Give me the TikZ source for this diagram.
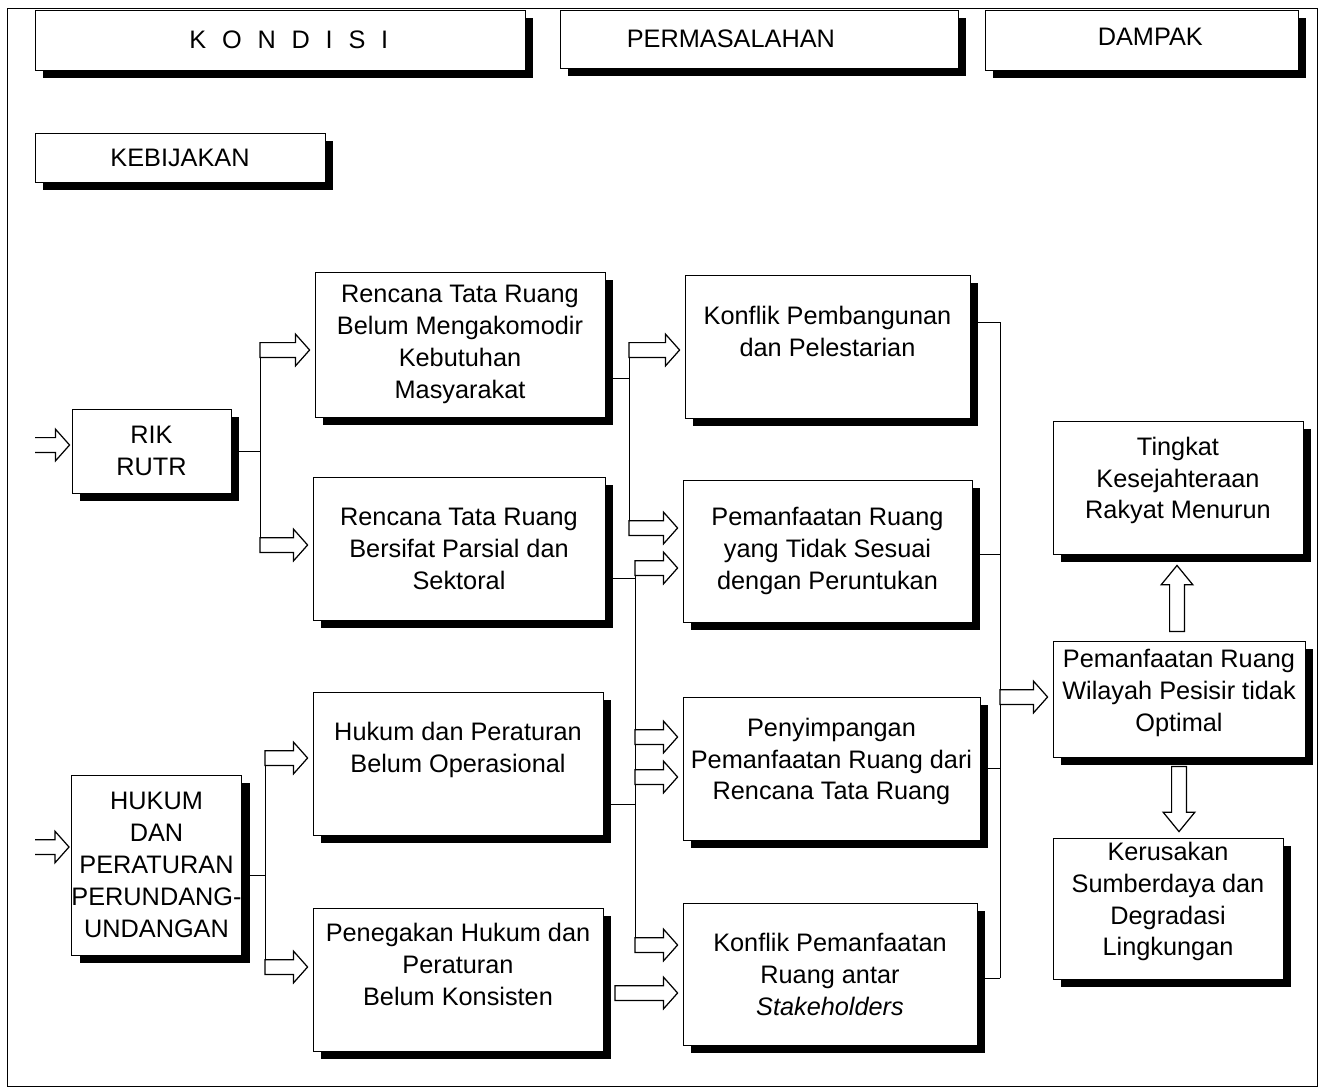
\documentclass[tikz,border=0pt]{standalone}
\usepackage{fontspec}
\setmainfont{Liberation Sans}
\usepackage{tikz}
\usetikzlibrary{calc, shadows}

\begin{document}
\begin{tikzpicture}[x=0.02cm,y=-0.02cm,
  every node/.style={font=\fontsize{14.4}{18.2}\selectfont},
  box/.style={draw, line width=0.5pt, fill=white, align=center, inner sep=2pt,
    drop shadow={shadow xshift=4.6pt, shadow yshift=-4.6pt, opacity=1, fill=black}},
  lift/.style={text depth=#1},
  bus/.style={line width=0.5pt},
  blk/.style={line width=0.7pt, fill=white, line join=miter}]
  \def\headlen{8pt}
  \def\arrw#1#2#3{% panah blok: ekor, ujung, penutup
    \coordinate (hb) at ($(#2)!\headlen!(#1)$);
    \draw[blk] ($(#1)!4.2pt!90:(#2)$) -- ($(hb)!4.2pt!90:(#2)$) -- ($(hb)!9pt!90:(#2)$) -- (#2)
      -- ($(hb)!9pt!-90:(#2)$) -- ($(hb)!4.2pt!-90:(#2)$) -- ($(#1)!4.2pt!-90:(#2)$) #3;
  }

  \useasboundingbox (0,0) rectangle (1322,1090);
  \draw[bus] (7,8) rectangle (1317,1086); % bingkai

  % judul kolom
  \node[box, minimum width=9.8cm, minimum height=1.2cm,
    label={[xshift=5pt]center:K\hspace{9pt}O\hspace{9pt}N\hspace{9pt}D\hspace{9pt}I\hspace{9pt}S\hspace{9pt}I}] (kondisi) at (280,40) {};
  \node[box, minimum width=7.96cm, minimum height=1.16cm,
    label={[xshift=-16pt]center:PERMASALAHAN}] (masalah) at (759,39) {};
  \node[box, minimum width=6.26cm, minimum height=1.2cm,
    label={[xshift=5pt, yshift=2pt]center:DAMPAK}] (dampak) at (1141.5,40) {};
  \node[box, minimum width=5.8cm, minimum height=0.98cm] (kebijakan) at (180,157.5) {KEBIJAKAN};

  % kebijakan
  \node[box, minimum width=3.18cm, minimum height=1.68cm] (rik) at (151.5,451) {RIK\\RUTR};
  \node[box, inner xsep=0pt, minimum width=3.3cm, minimum height=3.6cm] (hukum) at (156.5,865) {HUKUM\\DAN\\PERATURAN\\PERUNDANG-\\UNDANGAN};

  % kondisi
  \node[box, minimum width=5.8cm, minimum height=2.9cm] (rtr1) at (460,344.5) {Rencana Tata Ruang\\Belum Mengakomodir\\Kebutuhan\\Masyarakat};
  \node[box, minimum width=5.84cm, minimum height=2.86cm] (rtr2) at (459,548.5) {Rencana Tata Ruang\\Bersifat Parsial dan\\Sektoral};
  \node[box, lift=18pt, minimum width=5.8cm, minimum height=2.86cm] (hkm1) at (458,763.5) {Hukum dan Peraturan\\Belum Operasional};
  \node[box, lift=17pt, minimum width=5.8cm, minimum height=2.86cm] (hkm2) at (458,979.5) {Penegakan Hukum dan\\Peraturan\\Belum Konsisten};

  % permasalahan
  \node[box, lift=17pt, minimum width=5.7cm, minimum height=2.86cm] (kp) at (827.5,346.5) {Konflik Pembangunan\\dan Pelestarian};
  \node[box, minimum width=5.78cm, minimum height=2.84cm] (pr) at (827.5,551) {Pemanfaatan Ruang\\yang Tidak Sesuai\\dengan Peruntukan};
  \node[box, lift=11pt, minimum width=5.94cm, minimum height=2.86cm] (py) at (831.5,768.5) {Penyimpangan\\Pemanfaatan Ruang dari\\Rencana Tata Ruang};
  \node[box, minimum width=5.88cm, minimum height=2.84cm] (kpr) at (830,974) {Konflik Pemanfaatan\\Ruang antar\\\textit{Stakeholders}};

  % dampak
  \node[box, lift=11pt, minimum width=5cm, minimum height=2.66cm] (tk) at (1178,487.5) {Tingkat\\Kesejahteraan\\Rakyat Menurun};
  \node[box, lift=10pt, minimum width=5.04cm, minimum height=2.32cm] (pw) at (1179,699) {Pemanfaatan Ruang\\Wilayah Pesisir tidak\\Optimal};
  \node[box, lift=11pt, minimum width=4.6cm, minimum height=2.82cm] (kr) at (1168,908.5) {Kerusakan\\Sumberdaya dan\\Degradasi\\Lingkungan};

  % titik cabang
  \coordinate (in1) at (35,445);   \coordinate (in2) at (35,847);
  \coordinate (busr1) at (260,350); \coordinate (busr2) at (260,545);
  \coordinate (bush1) at (265,758); \coordinate (bush2) at (265,967); \coordinate (jh) at (265,875);
  \coordinate (busa1) at (629,350); \coordinate (busa2) at (629,528); \coordinate (ja) at (629,378);
  \coordinate (busb1) at (635,568); \coordinate (busb2) at (635,945);
  \coordinate (jb1) at (635,578); \coordinate (jb2) at (635,804);
  \coordinate (jb3) at (635,737); \coordinate (jb4) at (635,777);
  \coordinate (tl) at (615,993);
  \coordinate (jc1) at (1000,322); \coordinate (jc2) at (1000,554);
  \coordinate (jc3) at (1000,768); \coordinate (jc4) at (1000,978);
  \coordinate (jc5) at (1000,697);

  % garis penghubung
  \draw[bus] (rik.east) -- (rik.east -| busr1);
  \draw[bus] (busr1) -- (busr2);
  \draw[bus] (hukum.east |- jh) -- (jh);
  \draw[bus] (bush1) -- (bush2);
  \draw[bus] (rtr1.east |- ja) -- (ja);
  \draw[bus] (busa1) -- (busa2);
  \draw[bus] (rtr2.east |- jb1) -- (jb1);
  \draw[bus] (hkm1.east |- jb2) -- (jb2);
  \draw[bus] (busb1) -- (busb2);
  \foreach \c/\n in {jc1/kp, jc2/pr, jc3/py, jc4/kpr} {
    \draw[bus] (\n.east |- \c) -- (\c);
  }
  \draw[bus] (jc1) -- (jc4);

  % panah masuk
  \foreach \a/\b in {in1/rik, in2/hukum} {
    \coordinate (tp) at ($(\b.west |- \a)+(-2,0)$);
    \arrw{\a}{tp}{}
  }
  % panah antar kotak
  \foreach \a/\b in {busr1/rtr1, busr2/rtr2, bush1/hkm1, bush2/hkm2, busa1/kp, busa2/pr,
      busb1/pr, jb3/py, jb4/py, busb2/kpr, tl/kpr, jc5/pw} {
    \coordinate (tp) at ($(\b.west |- \a)+(-5,0)$);
    \arrw{\a}{tp}{-- cycle}
  }

  % panah tegak
  \def\headlen{11pt}
  \coordinate (u1) at ($(pw.north)+(-2,-9)$);
  \coordinate (u2) at ($(u1 |- tk.south)+(0,11)$);
  \arrw{u1}{u2}{-- cycle}
  \coordinate (d1) at ($(pw.south)+(0,9)$);
  \coordinate (d2) at ($(d1 |- kr.north)+(0,-6)$);
  \arrw{d1}{d2}{-- cycle}
\end{tikzpicture}
\end{document}
